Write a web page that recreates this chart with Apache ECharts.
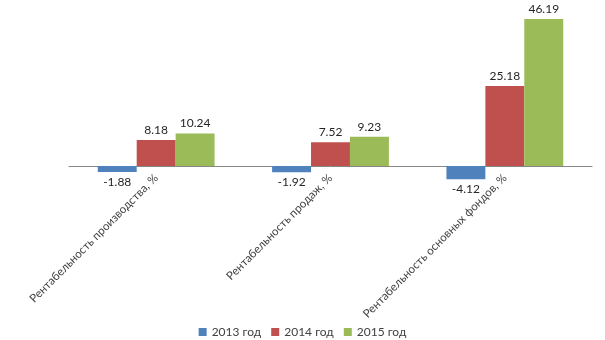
<!DOCTYPE html>
<html><head><meta charset="utf-8">
<script src="https://cdn.jsdelivr.net/npm/echarts@6/dist/echarts.min.js"></script>
<style>html,body{margin:0;padding:0;background:#fff}#c{width:605px;height:340px}</style>
</head><body><div id="c"></div>
<script>
const categories = ["Рентабельность производства, %", "Рентабельность продаж, %", "Рентабельность основных фондов, %"];
const seriesNames = ["2013 год", "2014 год", "2015 год"];
const values2013 = [-1.88, -1.92, -4.12];
const values2014 = [8.18, 7.52, 25.18];
const values2015 = [10.24, 9.23, 46.19];
const colors = ["#4f81bd", "#c0504d", "#9bbb59"];
const allValues = [values2013, values2014, values2015];
const font = "Lato, 'Open Sans', sans-serif";
const chart = echarts.init(document.getElementById('c'));
chart.setOption({
  animation: false,
  textStyle: { fontFamily: font },
  grid: { left: 69, right: 13, top: 7, height: 175, containLabel: false },
  legend: {
    top: 321, left: 'center', itemWidth: 8, itemHeight: 8, itemGap: 10,
    icon: 'rect',
    textStyle: { fontFamily: font, fontSize: 12, color: '#404040' },
    data: seriesNames
  },
  xAxis: {
    type: 'category', data: categories,
    axisLine: { lineStyle: { color: '#868686', width: 1 }, onZero: true },
    axisTick: { show: false },
    axisLabel: { rotate: 45, interval: 0, margin: -6, fontFamily: font, fontSize: 11.5, color: '#404040' }
  },
  yAxis: {
    type: 'value', min: -5, max: 50, show: false, splitLine: { show: false }
  },
  series: allValues.map((vals, i) => ({
    name: seriesNames[i], type: 'bar', data: vals,
    barGap: '0%', barCategoryGap: '33%',
    itemStyle: { color: colors[i] },
    label: { show: true, position: 'outside', formatter: p => p.value.toFixed(2),
      fontFamily: font, fontSize: 12, color: '#262626', distance: 4 }
  }))
});
</script></body></html>
